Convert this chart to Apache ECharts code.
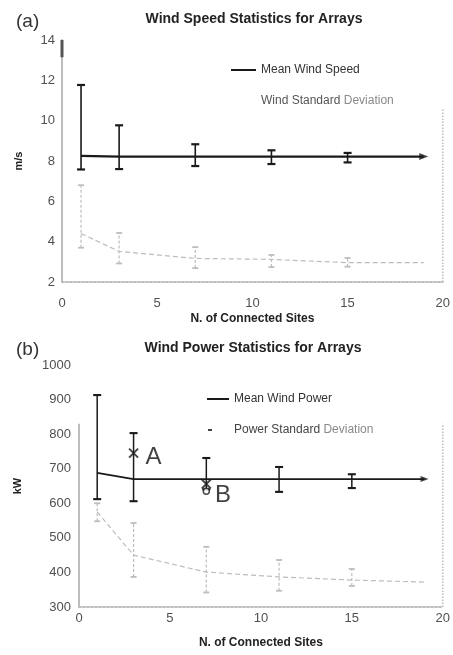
<!DOCTYPE html>
<html>
<head>
<meta charset="utf-8">
<script src="https://cdn.jsdelivr.net/npm/echarts@6/dist/echarts.min.js"></script>
<style>
  html, body { margin: 0; padding: 0; background: #fff; }
  #chart { width: 453px; height: 655px; }
</style>
</head>
<body>
<div id="chart"></div>
<script>
// Number of connected sites where the statistics were evaluated
const sites = [1, 3, 7, 11, 15, 19];
const barSites = [1, 3, 7, 11, 15];

// (a) wind speed, m/s
const meanSpeed = [8.25, 8.22, 8.22, 8.22, 8.22, 8.22];
const meanSpeedLow = [7.58, 7.6, 7.75, 7.85, 7.93];
const meanSpeedHigh = [11.77, 9.77, 8.83, 8.53, 8.4];
const stdSpeed = [4.4, 3.52, 3.17, 3.12, 2.96, 2.96];
const stdSpeedLow = [3.7, 2.92, 2.69, 2.74, 2.76];
const stdSpeedHigh = [6.8, 4.43, 3.73, 3.34, 3.19];

// (b) wind power, kW
const meanPower = [688, 670, 670, 670, 670, 670];
const meanPowerLow = [612, 606, 640, 633, 644];
const meanPowerHigh = [913, 803, 731, 705, 684];
const stdPower = [575, 450, 401, 387, 378, 372];
const stdPowerLow = [548, 387, 342, 347, 361];
const stdPowerHigh = [600, 543, 474, 436, 410];

// Annotated operating points
const pointA = [3, 745];
const pointB = [7, 656];
const pointBRing = [7, 635];

// Axis ranges and tick steps
const speedAxis = { min: 2, max: 14, interval: 2 };
const powerAxis = { min: 300, max: 1000, interval: 100 };
const siteAxis = { min: 0, max: 20, interval: 5 };

const pairs = (xs, ys) => xs.map((x, i) => [x, ys[i]]);
const spans = (xs, lo, hi) => xs.map((x, i) => [x, lo[i], hi[i]]);

const INK = '#1a1a1a';
const PALE = '#bdbdbd';

function errorBars(idx, data, color, width, cap, dash) {
  return {
    type: 'custom',
    xAxisIndex: idx, yAxisIndex: idx,
    data: data,
    encode: { x: 0, y: [1, 2] },
    z: 4,
    silent: true,
    renderItem(params, api) {
      const x = api.value(0);
      const lo = api.coord([x, api.value(1)]);
      const hi = api.coord([x, api.value(2)]);
      const stem = { stroke: color, lineWidth: width, lineDash: dash || null };
      const capStyle = { stroke: color, lineWidth: width + 0.6 };
      return {
        type: 'group',
        children: [
          { type: 'line', shape: { x1: lo[0], y1: lo[1], x2: hi[0], y2: hi[1] }, style: stem },
          { type: 'line', shape: { x1: lo[0] - cap, y1: lo[1], x2: lo[0] + cap, y2: lo[1] }, style: capStyle },
          { type: 'line', shape: { x1: hi[0] - cap, y1: hi[1], x2: hi[0] + cap, y2: hi[1] }, style: capStyle }
        ]
      };
    }
  };
}

function frameLine(idx, data, color, width, type) {
  return {
    type: 'line', xAxisIndex: idx, yAxisIndex: idx, data: data,
    symbol: 'none', silent: true, z: 1,
    lineStyle: { color: color, width: width, type: type }
  };
}

const crossPath = 'path://M0,0L10,10M10,0L0,10';

const chart = echarts.init(document.getElementById('chart'), null, { renderer: 'canvas' });

const FONT = 'Liberation Sans, Arial, sans-serif';
const tickLabel = { color: '#505050', fontSize: 13, fontFamily: FONT, formatter: v => String(v) };
const axisName = { color: '#222', fontSize: 12, fontWeight: 'bold', fontFamily: FONT };

chart.setOption({
  animation: false,
  textStyle: { fontFamily: FONT },
  title: [
    { text: '(a)', left: 11, top: 7, textStyle: { fontSize: 19, fontWeight: 'normal', color: '#333' } },
    { text: 'Wind Speed Statistics for Arrays', left: 249, top: 7, textAlign: 'center',
      textStyle: { fontSize: 14, fontWeight: 'bold', color: '#222' } },
    { text: '(b)', left: 11, top: 335, textStyle: { fontSize: 19, fontWeight: 'normal', color: '#333' } },
    { text: 'Wind Power Statistics for Arrays', left: 248, top: 336, textAlign: 'center',
      textStyle: { fontSize: 14, fontWeight: 'bold', color: '#222' } }
  ],
  legend: [
    { data: ['Mean Wind Speed'], left: 226, top: 59, itemWidth: 25, itemHeight: 2, icon: 'rect',
      itemStyle: { color: INK }, textStyle: { color: '#333', fontSize: 12 }, selectedMode: false },
    { data: ['Wind Standard Deviation'], left: 226, top: 90, itemWidth: 25, itemHeight: 2, icon: 'rect',
      itemStyle: { color: 'rgba(0,0,0,0)' }, selectedMode: false,
      formatter: () => '{a|Wind Standard }{b|Deviation}',
      textStyle: { fontSize: 12, rich: { a: { color: '#555', fontSize: 12 }, b: { color: '#8a8a8a', fontSize: 12 } } } },
    { data: ['Mean Wind Power'], left: 202, top: 388, itemWidth: 22, itemHeight: 2, icon: 'rect',
      itemStyle: { color: INK }, textStyle: { color: '#333', fontSize: 12 }, selectedMode: false },
    { data: ['Power Standard Deviation'], left: 203, top: 419, itemWidth: 4, itemHeight: 2, icon: 'rect',
      itemStyle: { color: '#444' }, selectedMode: false,
      formatter: () => '{a|Power Standard }{b|Deviation}',
      textStyle: { fontSize: 12, padding: [0, 0, 0, 17],
        rich: { a: { color: '#444', fontSize: 12 }, b: { color: '#8a8a8a', fontSize: 12 } } } }
  ],
  grid: [
    { left: 62, width: 382, top: 40, height: 242 },
    { left: 79, width: 364, top: 365, height: 242 }
  ],
  xAxis: [
    { gridIndex: 0, type: 'value', ...siteAxis,
      name: 'N. of Connected Sites', nameLocation: 'middle', nameGap: 31, nameTextStyle: axisName,
      axisLine: { show: true, lineStyle: { color: PALE, width: 2, type: 'dotted' } },
      axisTick: { show: false }, splitLine: { show: false },
      axisLabel: { ...tickLabel, margin: 15 } },
    { gridIndex: 1, type: 'value', ...siteAxis,
      name: 'N. of Connected Sites', nameLocation: 'middle', nameGap: 30, nameTextStyle: axisName,
      axisLine: { show: true, lineStyle: { color: PALE, width: 2, type: 'dotted' } },
      axisTick: { show: false }, splitLine: { show: false },
      axisLabel: { ...tickLabel, margin: 5 } }
  ],
  yAxis: [
    { gridIndex: 0, type: 'value', ...speedAxis,
      name: 'm/s', nameLocation: 'middle', nameGap: 38, nameRotate: 90,
      nameTextStyle: { ...axisName, fontSize: 11 },
      axisLine: { show: true, lineStyle: { color: PALE, width: 2 } },
      axisTick: { show: false }, splitLine: { show: false },
      axisLabel: { ...tickLabel, margin: 7 } },
    { gridIndex: 1, type: 'value', ...powerAxis,
      name: 'kW', nameLocation: 'middle', nameGap: 56, nameRotate: 90,
      nameTextStyle: { ...axisName, fontSize: 11 },
      axisLine: { show: false },
      axisTick: { show: false }, splitLine: { show: false },
      axisLabel: { ...tickLabel, margin: 8 } }
  ],
  series: [
    // plot frame pieces
    frameLine(0, [[0, 14], [0, 13.15]], '#555', 3, 'solid'),
    frameLine(0, [[20, 2], [20, 10.6]], PALE, 1.5, 'dotted'),
    frameLine(1, [[0, 300], [0, 830]], PALE, 2, 'solid'),
    frameLine(1, [[20, 300], [20, 830]], PALE, 1.5, 'dotted'),

    // (a) wind speed
    { name: 'Wind Standard Deviation', type: 'line', xAxisIndex: 0, yAxisIndex: 0,
      data: pairs(sites, stdSpeed), symbol: 'none', z: 2,
      lineStyle: { color: PALE, width: 1.2, type: [5, 3] } },
    errorBars(0, spans(barSites, stdSpeedLow, stdSpeedHigh), PALE, 1.2, 3, [3, 2]),
    { name: 'Mean Wind Speed', type: 'line', xAxisIndex: 0, yAxisIndex: 0,
      data: pairs(sites, meanSpeed), symbol: 'none', z: 5,
      lineStyle: { color: INK, width: 2.2 } },
    errorBars(0, spans(barSites, meanSpeedLow, meanSpeedHigh), INK, 1.6, 4),
    { type: 'scatter', xAxisIndex: 0, yAxisIndex: 0, data: [pairs(sites, meanSpeed)[sites.length - 1]],
      symbol: 'triangle', symbolSize: [7, 9], symbolRotate: -90, itemStyle: { color: INK }, z: 6, silent: true },

    // (b) wind power
    { name: 'Power Standard Deviation', type: 'line', xAxisIndex: 1, yAxisIndex: 1,
      data: pairs(sites, stdPower), symbol: 'none', z: 2,
      lineStyle: { color: PALE, width: 1.2, type: [5, 3] } },
    errorBars(1, spans(barSites, stdPowerLow, stdPowerHigh), PALE, 1.2, 3, [3, 2]),
    { name: 'Mean Wind Power', type: 'line', xAxisIndex: 1, yAxisIndex: 1,
      data: pairs(sites, meanPower), symbol: 'none', z: 5,
      lineStyle: { color: INK, width: 1.8 } },
    errorBars(1, spans(barSites, meanPowerLow, meanPowerHigh), INK, 1.5, 4),
    { type: 'scatter', xAxisIndex: 1, yAxisIndex: 1, data: [pairs(sites, meanPower)[sites.length - 1]],
      symbol: 'triangle', symbolSize: [6, 8], symbolRotate: -90, itemStyle: { color: INK }, z: 6, silent: true },

    // annotated points A and B
    { type: 'scatter', xAxisIndex: 1, yAxisIndex: 1, data: [pointA, pointB],
      symbol: crossPath, symbolSize: 9, z: 7, silent: true,
      itemStyle: { color: 'none', borderColor: INK, borderWidth: 2 },
      label: { show: true, position: 'right', distance: 5, offset: [0, 4],
        formatter: p => (p.dataIndex === 0 ? 'A' : ''),
        fontSize: 24, color: '#111', fontFamily: FONT } },
    { type: 'scatter', xAxisIndex: 1, yAxisIndex: 1, data: [pointBRing],
      symbol: 'circle', symbolSize: 6, z: 7, silent: true,
      itemStyle: { color: '#fff', borderColor: INK, borderWidth: 1.5 },
      label: { show: true, position: 'right', distance: 5, offset: [0, 4], formatter: 'B',
        fontSize: 24, color: '#111', fontFamily: FONT } }
  ]
});
</script>
</body>
</html>
